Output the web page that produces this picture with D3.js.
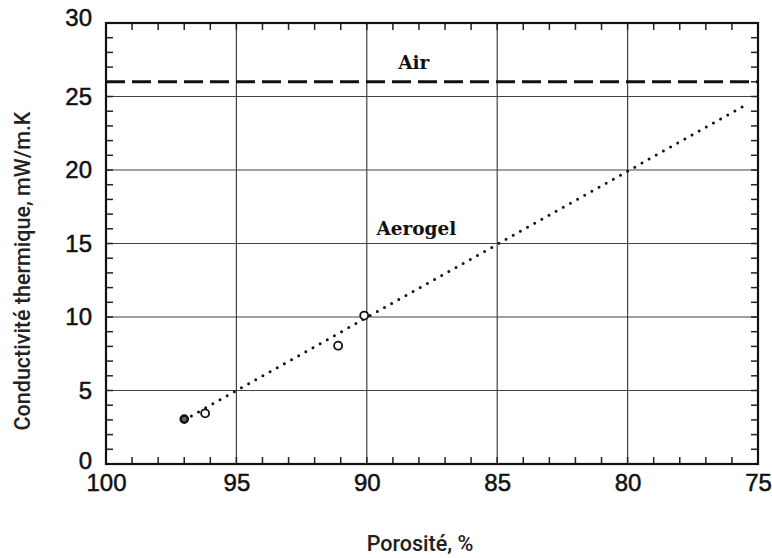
<!DOCTYPE html>
<html>
<head>
<meta charset="utf-8">
<script src="https://cdn.jsdelivr.net/npm/d3@7"></script>
<style>
  body { margin: 0; background: #fff; }
  .tick text { font-family: "Liberation Sans", Arial, sans-serif; font-size: 24px; fill: #111; stroke: #111; stroke-width: 0.5px; }
  .lbl { font-family: "DejaVu Serif", serif; font-weight: bold; font-size: 18.5px; fill: #111; }
  .title { font-family: Roboto, sans-serif; font-weight: 500; font-size: 21.5px; fill: #222; }
</style>
</head>
<body>
<svg id="chart" width="772" height="558"></svg>
<script>
// donnees
var xTicks = [100, 95, 90, 85, 80, 75];
var yTicks = [0, 5, 10, 15, 20, 25, 30];
var airValue = 26;
var aerogelLine = [[97, 3], [75.5, 24.4]];
var pointsPorosite = [97, 96.2, 91.1, 90.1];
var pointsConduct = [3.05, 3.45, 8.05, 10.1];

var svg = d3.select("#chart"),
    margin = { top: 23, right: 14, bottom: 94, left: 106 },
    width = +svg.attr("width") - margin.left - margin.right,
    height = +svg.attr("height") - margin.top - margin.bottom;

var x = d3.scaleLinear().domain([100, 75]).range([0, width]),
    y = d3.scaleLinear().domain([0, 30]).range([height, 0]);

var g = svg.append("g")
    .attr("transform", "translate(" + margin.left + "," + margin.top + ")");

// grille principale
g.selectAll(".vgrid")
    .data(xTicks)
    .enter().append("line")
    .attr("x1", function (d) { return x(d); })
    .attr("x2", function (d) { return x(d); })
    .attr("y1", 0).attr("y2", height)
    .attr("stroke", "#444").attr("stroke-width", 1.2);

g.selectAll(".hgrid")
    .data(yTicks)
    .enter().append("line")
    .attr("y1", function (d) { return y(d); })
    .attr("y2", function (d) { return y(d); })
    .attr("x1", 0).attr("x2", width)
    .attr("stroke", "#444").attr("stroke-width", 1.2);

// petites graduations
var minorX = d3.range(100, 74, -1),
    minorY = d3.range(0, 31, 1);

g.append("g").selectAll("line").data(minorX).enter().append("line")
    .attr("x1", function (d) { return x(d); }).attr("x2", function (d) { return x(d); })
    .attr("y1", height).attr("y2", height - 7)
    .attr("stroke", "#222").attr("stroke-width", 1.5);
g.append("g").selectAll("line").data(minorX).enter().append("line")
    .attr("x1", function (d) { return x(d); }).attr("x2", function (d) { return x(d); })
    .attr("y1", 0).attr("y2", 7)
    .attr("stroke", "#222").attr("stroke-width", 1.5);
g.append("g").selectAll("line").data(minorY).enter().append("line")
    .attr("y1", function (d) { return y(d); }).attr("y2", function (d) { return y(d); })
    .attr("x1", 0).attr("x2", 7)
    .attr("stroke", "#222").attr("stroke-width", 1.5);
g.append("g").selectAll("line").data(minorY).enter().append("line")
    .attr("y1", function (d) { return y(d); }).attr("y2", function (d) { return y(d); })
    .attr("x1", width).attr("x2", width - 7)
    .attr("stroke", "#222").attr("stroke-width", 1.5);

// cadre
g.append("rect")
    .attr("width", width).attr("height", height)
    .attr("fill", "none").attr("stroke", "#111").attr("stroke-width", 2.2);

// axes (labels seulement)
g.append("g")
    .attr("class", "axis axis--x")
    .attr("transform", "translate(0," + height + ")")
    .call(d3.axisBottom(x).tickValues(xTicks).tickSize(0).tickPadding(10))
    .call(function (a) { a.select(".domain").remove(); });

g.append("g")
    .attr("class", "axis axis--y")
    .call(d3.axisLeft(y).tickValues(yTicks).tickSize(0).tickPadding(14))
    .call(function (a) { a.select(".domain").remove(); })
    .selectAll("text")
    .attr("dy", function (d) { return d === 30 ? "0.1em" : (d === 0 ? "0.2em" : "0.32em"); });

// Air
g.append("line")
    .attr("x1", 0).attr("x2", width)
    .attr("y1", y(airValue)).attr("y2", y(airValue))
    .attr("stroke", "#111").attr("stroke-width", 3)
    .attr("stroke-dasharray", "19,7");

g.append("text").attr("class", "lbl")
    .attr("x", x(88.2)).attr("y", y(26) - 13)
    .attr("text-anchor", "middle")
    .text("Air");

// Aerogel
var line = d3.line()
    .x(function (d) { return x(d[0]); })
    .y(function (d) { return y(d[1]); });

g.append("path")
    .datum(aerogelLine)
    .attr("d", line)
    .attr("fill", "none")
    .attr("stroke", "#111")
    .attr("stroke-width", 3)
    .attr("stroke-linecap", "round")
    .attr("stroke-dasharray", "0,8.2");

g.append("text").attr("class", "lbl")
    .attr("x", x(88.1)).attr("y", y(15.6))
    .attr("text-anchor", "middle")
    .text("Aerogel");

g.selectAll(".pt")
    .data(pointsPorosite)
    .enter().append("circle")
    .attr("class", "pt")
    .attr("cx", function (d) { return x(d); })
    .attr("cy", function (d, i) { return y(pointsConduct[i]); })
    .attr("r", function (d, i) { return i === 0 ? 3.6 : 4; })
    .attr("fill", function (d, i) { return i === 0 ? "#666" : "#fff"; })
    .attr("stroke", "#111")
    .attr("stroke-width", function (d, i) { return i === 0 ? 2.4 : 1.8; });

// titres
svg.append("text").attr("class", "title")
    .attr("x", 420).attr("y", 551)
    .attr("text-anchor", "middle")
    .text("Porosité, %");

svg.append("text").attr("class", "title")
    .attr("transform", "translate(30," + 271 + ") rotate(-90)")
    .attr("text-anchor", "middle")
    .text("Conductivité thermique, mW/m.K");
</script>
</body>
</html>
